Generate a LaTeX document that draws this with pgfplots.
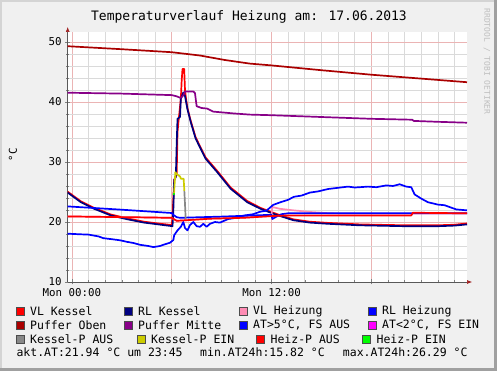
\documentclass[border=0pt]{standalone}
\usepackage{fontspec}
\setmainfont{DejaVu Sans Mono}
\usepackage{pgfplots}
\pgfplotsset{compat=1.18}
\usetikzlibrary{arrows.meta}
\definecolor{bgc}{HTML}{F0F0F0}
\definecolor{brdl}{HTML}{D4D4D4}
\definecolor{brdd}{HTML}{A0A0A0}
\definecolor{majg}{HTML}{EBB4B4}
\definecolor{ming}{HTML}{DADADA}
\definecolor{arrc}{HTML}{A02020}
\definecolor{cvlk}{HTML}{FF0000}
\definecolor{crlk}{HTML}{000080}
\definecolor{cvlh}{HTML}{FF8CB4}
\definecolor{crlh}{HTML}{0000FF}
\definecolor{cpo}{HTML}{AA0000}
\definecolor{cpm}{HTML}{880088}
\definecolor{cat}{HTML}{0000FF}
\definecolor{cat2}{HTML}{FF00FF}
\definecolor{ckpa}{HTML}{888888}
\definecolor{ckpe}{HTML}{CCCC00}
\definecolor{chpa}{HTML}{FF0000}
\definecolor{chpe}{HTML}{00FF00}
\newcommand\lfont{\fontsize{11.5}{13}\selectfont}
\newcommand\tfont{\fontsize{10.8}{12}\selectfont}
\begin{document}
\begin{tikzpicture}[x=1pt,y=1pt]
\fill[bgc] (0,0) rectangle (497,371);
\fill[brdl] (0,0) rectangle (2,371);
\fill[brdl] (0,369) rectangle (497,371);
\fill[brdd] (494,0) rectangle (497,371);
\fill[brdd] (0,0) rectangle (497,3);
\node[font=\fontsize{13}{15}\selectfont] at (249,354) {Temperaturverlauf Heizung am: 17.06.2013};
\node[font=\fontsize{8}{9}\selectfont, text=black!25, rotate=-90] at (487,309.5) {RRDTOOL / TOBI OETIKER};
\node[font=\tfont, rotate=90] at (13,216) {°C};
\begin{axis}[
  at={(67.7pt,89pt)}, anchor=south west, scale only axis,
  width=399.3pt, height=250pt,
  xmin=-0.25, xmax=23.75, ymin=10, ymax=51.67,
  axis background/.style={fill=white},
  axis lines=left,
  axis line style={draw=black!65, line width=0.6pt},
  x axis line style={-{Latex[length=5pt,width=4pt,color=arrc]}, shorten >=-5pt},
  y axis line style={-{Latex[length=5pt,width=4pt,color=arrc]}, shorten >=-5pt},
  xtick={0,6,12,18}, xticklabels={Mon 00:00,,Mon 12:00,},
  minor xtick={1,2,3,4,5,7,8,9,10,11,13,14,15,16,17,19,20,21,22,23},
  ytick={10,20,30,40,50}, yticklabels={10,20,30,40,50},
  minor ytick={12,14,16,18,22,24,26,28,32,34,36,38,42,44,46,48},
  grid=both,
  major grid style={draw=majg, line width=0.6pt},
  minor grid style={draw=ming, line width=0.6pt},
  tick align=center, major tick length=5pt, minor tick length=3pt,
  tick style={draw=black!50, line width=0.5pt},
  xticklabel style={font=\tfont},
  yticklabel style={font=\tfont},
  every axis plot/.append style={line width=1.7pt, line join=round},
  clip=true,
]
% VL Kessel (red) following RL Kessel + spike
\addplot[cvlk] coordinates {(-0.25,25.05)(0.54,23.45)(1.34,22.35)(2.34,21.25)(3.34,20.6)(4.34,20.05)(5.34,19.7)(6.0,19.5)(6.05,20.6)(6.1,24)(6.15,27)(6.3,28)(6.35,35)(6.4,36.5)(6.55,40.5)(6.6,43.5)(6.65,45.5)(6.75,45.5)(6.8,42)(6.85,40.8)(6.94,39.1)(7.14,36.9)(7.44,34.1)(8.04,30.75)(8.74,28.5)(9.54,25.75)(10.54,23.5)(11.34,22.35)(12.0,21.65)(12.4,21.25)(13.3,20.45)(14.3,20.05)(15.4,19.85)(17.3,19.6)(20,19.45)(22,19.45)(23,19.55)(23.75,19.75)};
% RL Kessel (navy)
\addplot[crlk] coordinates {(-0.25,24.9)(0.54,23.3)(1.34,22.2)(2.34,21.1)(3.34,20.45)(4.34,19.9)(5.34,19.55)(6.05,19.3)(6.1,22)(6.15,27)(6.25,27.5)(6.3,33)(6.35,37.2)(6.5,37.5)(6.55,40.5)(6.7,41.6)(6.8,41.0)(6.94,38.9)(7.14,36.7)(7.44,33.9)(8.04,30.55)(8.74,28.3)(9.54,25.55)(10.54,23.3)(11.34,22.2)(12.0,21.5)(12.4,21.1)(13.3,20.3)(14.3,19.9)(15.4,19.7)(17.3,19.45)(20,19.3)(22,19.3)(23,19.4)(23.75,19.6)};
% VL Heizung (pink)
\addplot[cvlh] coordinates {(-0.25,20.93)(6.0,20.7)(6.3,20.2)(6.9,20.3)(8.3,20.55)(10.3,20.7)(12.0,21.0)(12.05,22.5)(12.5,22.2)(13.3,21.95)(14.34,21.67)(15.5,21.45)(17,21.4)(23.75,21.4)};
% RL Heizung (blue)
\addplot[crlh] coordinates {(-0.25,22.6)(3,22.05)(6.0,21.5)(6.1,21.2)(6.3,20.8)(6.5,20.7)(9,20.9)(12,21.2)(12.05,20.5)(12.3,20.9)(12.6,21.3)(13,21.45)(23.75,21.45)};
% Puffer Oben
\addplot[cpo] coordinates {(-0.25,49.3)(3,48.8)(6,48.3)(7.7,47.75)(9.2,47.0)(10.7,46.4)(12,46.1)(15,45.3)(18,44.55)(21,43.9)(23.75,43.3)};
% Puffer Mitte
\addplot[cpm] coordinates {(-0.25,41.55)(3,41.4)(6,41.15)(6.3,40.95)(6.54,40.67)(6.7,41.1)(6.8,41.75)(7.3,41.75)(7.4,41.5)(7.5,39.3)(7.8,39.0)(8.14,38.9)(8.5,38.4)(9.7,38.1)(10.7,37.9)(12,37.8)(15,37.5)(18,37.2)(20.45,37.05)(20.55,36.85)(22,36.7)(23.75,36.55)};
% AT>5C FS AUS (blue)
\addplot[cat] coordinates {(-0.25,18.05)(0.5,17.95)(1.0,17.9)(1.3,17.75)(1.6,17.6)(1.9,17.3)(2.5,17.1)(2.9,16.95)(3.3,16.7)(3.7,16.5)(4.1,16.2)(4.6,16.0)(4.9,15.82)(5.3,16.0)(5.5,16.2)(5.9,16.55)(6.1,17.0)(6.15,17.8)(6.35,18.6)(6.55,19.2)(6.7,20.0)(6.8,19.0)(6.95,18.6)(7.1,19.5)(7.3,20.0)(7.5,19.3)(7.7,19.2)(7.9,19.7)(8.1,19.2)(8.3,19.7)(8.6,20.0)(8.9,19.9)(9.4,20.5)(9.9,20.7)(10.4,21.1)(10.9,21.3)(11.3,21.7)(11.7,21.9)(12.1,22.85)(12.54,23.3)(13.0,23.7)(13.34,24.2)(13.8,24.4)(14.3,24.9)(14.8,25.1)(15.4,25.5)(16,25.7)(16.6,25.9)(17.0,25.75)(17.3,25.8)(17.8,25.9)(18.3,25.8)(18.9,26.1)(19.3,26.0)(19.7,26.29)(20.1,25.9)(20.4,25.8)(20.6,24.6)(21.0,23.9)(21.4,23.3)(22.0,22.9)(22.4,22.8)(23.1,22.1)(23.75,21.94)};
% Kessel-P AUS (gray)
\addplot[ckpa] coordinates {(6.76,25.2)(6.8,23)(6.84,20.5)};
% Kessel-P EIN (yellow)
\addplot[ckpe] coordinates {(6.14,24.7)(6.22,28.3)(6.34,27.9)(6.5,27.6)(6.56,27.2)(6.72,27.2)(6.76,25.2)};
% Heiz-P AUS (red)
\addplot[chpa] coordinates {(-0.25,20.93)(2,20.85)(4,20.78)(6.0,20.7)(6.3,20.2)(6.9,20.3)(8.3,20.55)(10.3,20.7)(12.1,21.0)(13,21.1)(20.4,21.1)(20.5,21.55)(22,21.5)(23.75,21.45)};
% Heiz-P EIN (green)
\addplot[chpe] coordinates {(6.12,24.5)(6.14,24.8)};
\end{axis}
% legend
\begin{scope}[font=\lfont]
\foreach \xs/\yc/\col/\txt in {
  16.3/59.5/cvlk/VL Kessel, 124.3/59.5/crlk/RL Kessel, 239.3/59.5/cvlh/VL Heizung, 368.3/59.5/crlh/RL Heizung,
  16.3/46/cpo/Puffer Oben, 124.3/46/cpm/Puffer Mitte, 239.3/46/cat/{AT>5°C, FS AUS}, 368.3/46/cat2/{AT<2°C, FS EIN},
  16.3/31.7/ckpa/Kessel-P AUS, 137.3/31.7/ckpe/Kessel-P EIN, 256.7/31.7/chpa/Heiz-P AUS, 362.7/31.7/chpe/Heiz-P EIN}{
  \filldraw[fill=\col, draw=black!70, line width=0.5pt] (\xs,\yc-4) rectangle ++(8,8);
  \node[anchor=west, inner sep=0pt] at (\xs+13.7,\yc) {\txt};
}
\node[anchor=west, inner sep=0pt] at (16.3,18.3) {akt.AT:21.94 °C um 23:45};
\node[anchor=west, inner sep=0pt] at (200,18.3) {min.AT24h:15.82 °C};
\node[anchor=west, inner sep=0pt] at (342.7,18.3) {max.AT24h:26.29 °C};
\end{scope}
\end{tikzpicture}
\end{document}
